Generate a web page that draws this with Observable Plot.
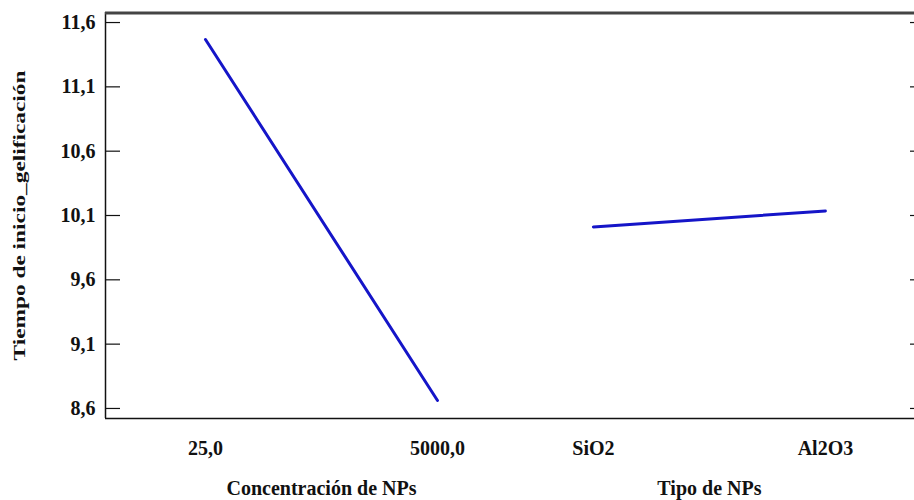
<!DOCTYPE html>
<html>
<head>
<meta charset="utf-8">
<script src="https://cdn.jsdelivr.net/npm/d3@7"></script>
<script src="https://cdn.jsdelivr.net/npm/@observablehq/plot@0.6"></script>
<style>
  html, body { margin: 0; padding: 0; background: #fff; overflow: hidden; }
  #chart svg { display: block; }
  #chart svg, #chart svg text { font-family: "Liberation Serif", "Times New Roman", serif !important; font-weight: bold; }
</style>
</head>
<body>
<div id="chart"></div>
<script>
// Factors and their levels
const factors = ["Concentración de NPs", "Tipo de NPs"];
const levels = [["25,0", "5000,0"], ["SiO2", "Al2O3"]];
// Mean response per level (Tiempo de inicio_gelificación)
const means = [[11.468, 8.662], [10.011, 10.135]];
const yTicks = [8.6, 9.1, 9.6, 10.1, 10.6, 11.1, 11.6];
const yTitle = "Tiempo de inicio_gelificación";

const groupGap = 1.672; // spacing between factor groups (in level units)
const rows = [];
factors.forEach((f, g) => levels[g].forEach((lv, l) => {
  rows.push({factor: f, level: lv, pos: g * groupGap + l, value: means[g][l]});
}));
const tickPos = rows.map(d => d.pos);
const tickLab = new Map(rows.map(d => [d.pos, d.level]));
const titles = factors.map((f, g) => ({factor: f, pos: g * groupGap + 0.5}));

const xDom = [-0.431, 3.056];
const yDom = [8.522, 11.678];
const fmt = v => d3.format(".1f")(v).replace(".", ",");

const chart = Plot.plot({
  width: 914,
  height: 500,
  marginLeft: 105,
  marginRight: 0,
  marginTop: 12,
  marginBottom: 82,
  style: {fontSize: "20px", color: "#111", background: "#fff"},
  x: {type: "linear", domain: xDom},
  y: {domain: yDom},
  marks: [
    // frame lines (left, bottom, top)
    Plot.ruleX([xDom[0]], {stroke: "#111", strokeWidth: 1.5}),
    Plot.ruleY([yDom[0]], {stroke: "#111", strokeWidth: 1.5}),
    Plot.ruleY([yDom[1]], {stroke: "#444", strokeWidth: 3, dy: 0.5}),
    // inward ticks on left and right
    Plot.ruleY(yTicks, {stroke: "#111", strokeWidth: 1.2, insetRight: 794}),
    Plot.ruleY(yTicks, {stroke: "#111", strokeWidth: 1.2, insetLeft: 805}),
    Plot.axisY({ticks: yTicks, tickFormat: fmt, tickSize: 0, tickPadding: 10, label: null, fontSize: 20}),
    Plot.axisX({ticks: tickPos, tickFormat: d => tickLab.get(d), tickSize: 0, tickPadding: 22, label: null, fontSize: 20}),
    // main effects lines
    Plot.line(rows, {x: "pos", y: "value", z: "factor", stroke: "#1515c8", strokeWidth: 3}),
    // factor titles
    Plot.text(titles, {x: "pos", text: "factor", frameAnchor: "bottom", dy: 76, fontSize: 20, fill: "#111"}),
    Plot.text([yTitle], {text: d => d, frameAnchor: "left", textAnchor: "middle", rotate: -90, dx: -86, fontSize: 16, fill: "#111"})
  ]
});
// stretch the y-axis title to its length in the reference
d3.select(chart).selectAll("text").filter(function() { return this.textContent === yTitle; })
  .attr("textLength", 290).attr("lengthAdjust", "spacingAndGlyphs");
document.getElementById("chart").appendChild(chart);
</script>
</body>
</html>
